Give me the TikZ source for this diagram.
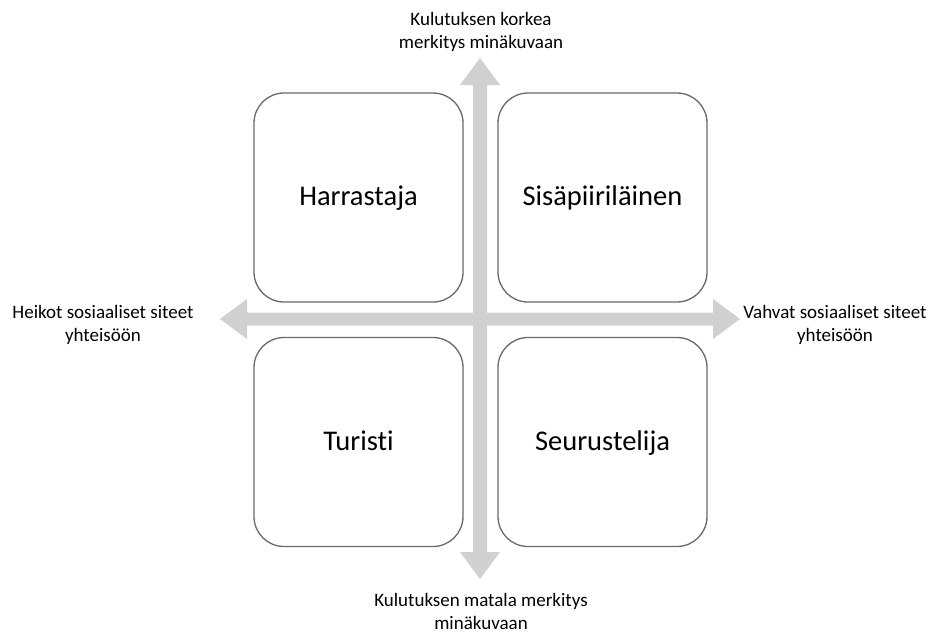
\documentclass[tikz,border=0pt]{standalone}
\usepackage{fontspec}
\setmainfont[Ligatures={NoCommon}]{Carlito}
\begin{document}
\begin{tikzpicture}[x=1pt,y=-1pt,
  axisfill/.style={fill=axisgray},
  quad/.style={draw=boxgray, line width=1.3pt, fill=white, rounded corners=30pt,
    minimum width=209pt, minimum height=209pt, inner sep=0pt, text height=20pt, text depth=4pt,
    font=\fontsize{28.5}{34}\selectfont},
  axislabel/.style={align=center, font=\fontsize{19}{23}\selectfont, inner sep=0pt}]
\definecolor{axisgray}{RGB}{208,208,208}
\definecolor{boxgray}{RGB}{105,105,105}
\useasboundingbox (0,0) rectangle (951,633);
% axes
\coordinate (up) at (480,58);
\coordinate (down) at (480,579);
\coordinate (left) at (220,319);
\coordinate (right) at (740,319);
\fill[axisfill] (up) -- (500,85) -- (487,85) -- (487,552) -- (500,552) -- (down)
  -- (460,552) -- (473,552) -- (473,85) -- (460,85) -- cycle;
\fill[axisfill] (left) -- (247,299) -- (247,312.5) -- (713,312.5) -- (713,299) -- (right)
  -- (713,339) -- (713,325.5) -- (247,325.5) -- (247,339) -- cycle;
% quadrants
\node[quad] (harr) at (358.5,197.5) {Harrastaja};
\node[quad] (sisa) at (602.5,197.5) {Sisäpiiriläinen};
\node[quad] (turi) at (358.5,442) {Turisti};
\node[quad] (seur) at (602.5,442) {Seurustelija};
% labels
\node[axislabel] (ltop) at (481,32) {Kulutuksen korkea\\merkitys minäkuvaan};
\node[axislabel] (lbot) at (481,611) {Kulutuksen matala merkitys\\minäkuvaan};
\node[axislabel] (lleft) at (103,325) {Heikot sosiaaliset siteet\\yhteisöön};
\node[axislabel] (lright) at (835,325) {Vahvat sosiaaliset siteet\\yhteisöön};
\end{tikzpicture}
\end{document}
